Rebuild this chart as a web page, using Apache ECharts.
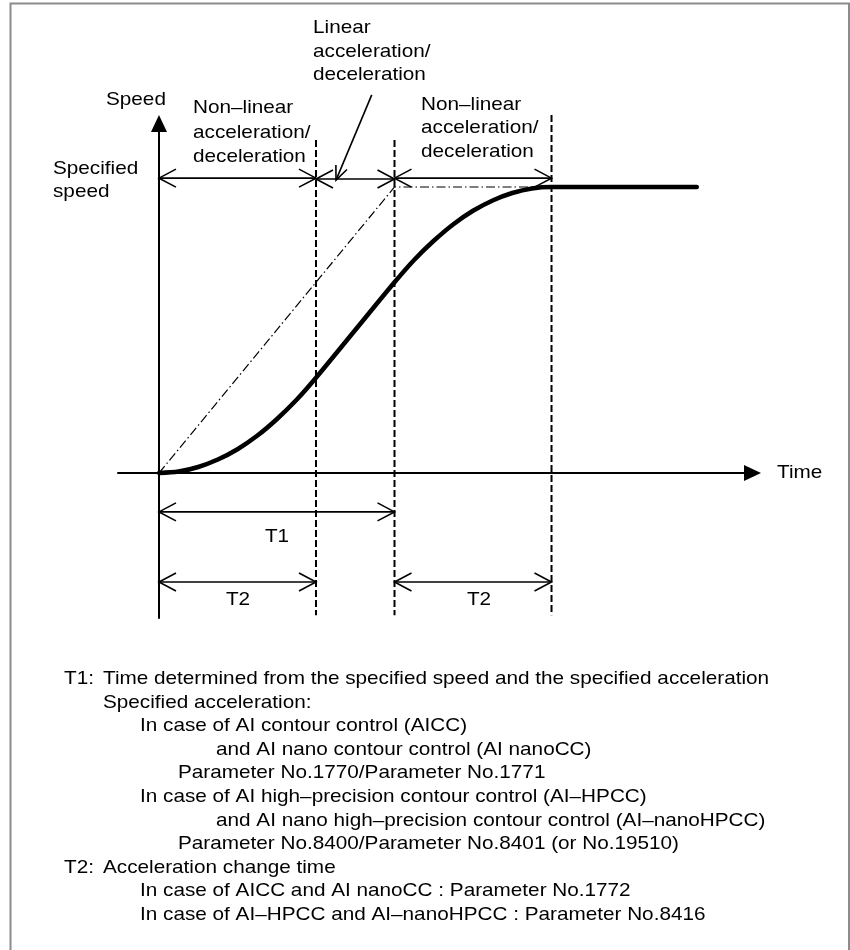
<!DOCTYPE html>
<html>
<head>
<meta charset="utf-8">
<script src="https://cdn.jsdelivr.net/npm/echarts@6/dist/echarts.min.js"></script>
<style>
html,body{margin:0;padding:0;background:#fff;}
#chart{width:850px;height:950px;}
</style>
</head>
<body>
<div id="chart"></div>
<script>
// ---- data (time in units of the chart, speed as fraction of specified speed) ----
const timeValues  = [0, 0.25, 0.5, 0.75, 1, 1.25, 1.5, 1.75, 2, 2.5, 3, 3.25, 3.5, 3.75, 4, 4.25, 4.5, 4.75, 5, 6.85];
const speedValues = [0, 0.005, 0.021, 0.047, 0.083, 0.13, 0.188, 0.255, 0.333, 0.5, 0.667, 0.745, 0.812, 0.87, 0.917, 0.953, 0.979, 0.995, 1, 1];
const linearTime  = [0, 3, 5];
const linearSpeed = [0, 1, 1];
const boundaryTimes = [2, 3, 5];          // T2, T1, T1+T2
const boundaryTop   = [1.164, 1.164, 1.252];
const boundaryBottom = -0.497;
// dimension arrows: [fromTime, toTime, level]
const dimFrom  = [0, 2, 3, 0, 0, 3];
const dimTo    = [2, 3, 5, 3, 2, 5];
const dimLevel = [1.031, 1.028, 1.031, -0.136, -0.381, -0.381];
// leader arrow for "Linear acceleration/deceleration"
const leaderFrom = [2.71, 1.322];
const leaderTo   = [2.255, 1.024];

const axisTitles = ["Speed", "Time"];
const specifiedLabel = ["Specified", "speed"];
const nonLinearLabel = ["Non\u2013linear", "acceleration/", "deceleration"];
const linearLabel = ["Linear", "acceleration/", "deceleration"];
const dimLabels = ["T1", "T2", "T2"];
const noteHeads = ["T1:", "", "", "", "", "", "", "", "T2:", "", ""];
const noteLines = [
  "Time determined from the specified speed and the specified acceleration",
  "Specified acceleration:",
  "In case of AI contour control (AICC)",
  "and AI nano contour control (AI nanoCC)",
  "Parameter No.1770/Parameter No.1771",
  "In case of AI high\u2013precision contour control (AI\u2013HPCC)",
  "and AI nano high\u2013precision contour control (AI\u2013nanoHPCC)",
  "Parameter No.8400/Parameter No.8401 (or No.19510)",
  "Acceleration change time",
  "In case of AICC and AI nanoCC : Parameter No.1772",
  "In case of AI\u2013HPCC and AI\u2013nanoHPCC : Parameter No.8416"
];

// ---- layout ----
const FONT = '"Liberation Sans", Arial, Helvetica, sans-serif';
const SX = 1.12;
function txt(s, x, y, size, align) {
  return {
    type: 'text', x: x, y: y, scaleX: SX, z: 10,
    style: { text: s, x: 0, y: 0, fill: '#000', font: size + 'px ' + FONT,
             align: align || 'left', verticalAlign: 'middle' }
  };
}
const graphics = [];
graphics.push({ type: 'rect', shape: { x: 10.5, y: 3.5, width: 838.5, height: 1000 },
  style: { fill: 'none', stroke: '#8c8c8c', lineWidth: 2 }, z: 0 });
const TS = 18.5;
graphics.push(txt(axisTitles[0], 106, 100, TS));
graphics.push(txt(axisTitles[1], 777, 473, TS));
graphics.push(txt(specifiedLabel[0], 53, 169, TS));
graphics.push(txt(specifiedLabel[1], 53, 192, TS));
[108, 133, 157].forEach((y, i) => graphics.push(txt(nonLinearLabel[i], 193, y, TS)));
[28, 52, 75].forEach((y, i) => graphics.push(txt(linearLabel[i], 313, y, TS)));
[105, 128, 152].forEach((y, i) => graphics.push(txt(nonLinearLabel[i], 421, y, TS)));
graphics.push(txt(dimLabels[0], 277, 537, TS, 'center'));
graphics.push(txt(dimLabels[1], 238, 600, TS, 'center'));
graphics.push(txt(dimLabels[2], 479, 600, TS, 'center'));
const noteIndent = [103, 103, 140, 216, 178, 140, 216, 178, 103, 140, 140];
noteLines.forEach((s, i) => {
  const y = 679 + i * 23.6;
  if (noteHeads[i]) graphics.push(txt(noteHeads[i], 64, y, TS));
  graphics.push(txt(s, noteIndent[i], y, TS));
});

function arrowRenderer(L, W, lw) {
  return function (params, api) {
    const p1 = api.coord([api.value(0), api.value(1)]);
    const p2 = api.coord([api.value(2), api.value(3)]);
    const hs = api.value(4), he = api.value(5);
    const dx = p2[0] - p1[0], dy = p2[1] - p1[1];
    const len = Math.hypot(dx, dy) || 1;
    const ux = dx / len, uy = dy / len;
    const st = { stroke: '#000', fill: 'none', lineWidth: lw };
    const children = [{ type: 'line', shape: { x1: p1[0], y1: p1[1], x2: p2[0], y2: p2[1] }, style: st }];
    function head(tip, ax, ay) {
      const bx = tip[0] + ax * L, by = tip[1] + ay * L;
      return { type: 'polyline', shape: { points: [[bx - ay * W, by + ax * W], [tip[0], tip[1]], [bx + ay * W, by - ax * W]] }, style: st };
    }
    if (hs) children.push(head(p1, ux, uy));
    if (he) children.push(head(p2, -ux, -uy));
    return { type: 'group', children: children };
  };
}

const dimData = dimFrom.map((f, i) => [f, dimLevel[i], dimTo[i], dimLevel[i], 1, 1]);
const leaderData = [[leaderFrom[0], leaderFrom[1], leaderTo[0], leaderTo[1], 0, 1]];
const boundaryData = boundaryTimes.map((t, i) => [t, boundaryTop[i], boundaryBottom]);

const option = {
  animation: false,
  backgroundColor: '#fff',
  grid: { left: 118, right: 97.5, top: 123.5, bottom: 332, containLabel: false },
  xAxis: {
    type: 'value', min: -0.522, max: 7.56,
    axisLine: { show: true, onZero: true, symbol: ['none', 'triangle'], symbolSize: [16, 17],
                lineStyle: { color: '#000', width: 2 } },
    axisTick: { show: false }, axisLabel: { show: false }, splitLine: { show: false }
  },
  yAxis: {
    type: 'value', min: -0.507, max: 1.222,
    axisLine: { show: true, onZero: true, symbol: ['none', 'triangle'], symbolSize: [16, 17],
                lineStyle: { color: '#000', width: 2 } },
    axisTick: { show: false }, axisLabel: { show: false }, splitLine: { show: false }
  },
  graphic: graphics,
  series: [
    {
      type: 'custom', coordinateSystem: 'cartesian2d', z: 2, clip: false,
      data: boundaryData,
      renderItem: function (params, api) {
        const a = api.coord([api.value(0), api.value(1)]);
        const b = api.coord([api.value(0), api.value(2)]);
        return { type: 'line', shape: { x1: a[0], y1: a[1], x2: b[0], y2: b[1] },
                 style: { stroke: '#000', lineWidth: 2, lineDash: [7, 3] } };
      }
    },
    {
      type: 'line', z: 3, symbol: 'none', clip: false,
      data: linearTime.map((t, i) => [t, linearSpeed[i]]),
      lineStyle: { color: '#000', width: 1.2, type: [9, 3, 1.5, 3] }
    },
    {
      type: 'line', z: 5, symbol: 'none', clip: false, smooth: 0.3,
      data: timeValues.map((t, i) => [t, speedValues[i]]),
      lineStyle: { color: '#000', width: 4.5, cap: 'round', join: 'round' }
    },
    {
      type: 'custom', coordinateSystem: 'cartesian2d', z: 4, clip: false,
      data: dimData, renderItem: arrowRenderer(17, 9, 1.6)
    },
    {
      type: 'custom', coordinateSystem: 'cartesian2d', z: 4, clip: false,
      data: leaderData, renderItem: arrowRenderer(14, 6, 1.6)
    }
  ]
};
const chart = echarts.init(document.getElementById('chart'), null, { renderer: 'canvas' });
chart.setOption(option);
</script>
</body>
</html>
